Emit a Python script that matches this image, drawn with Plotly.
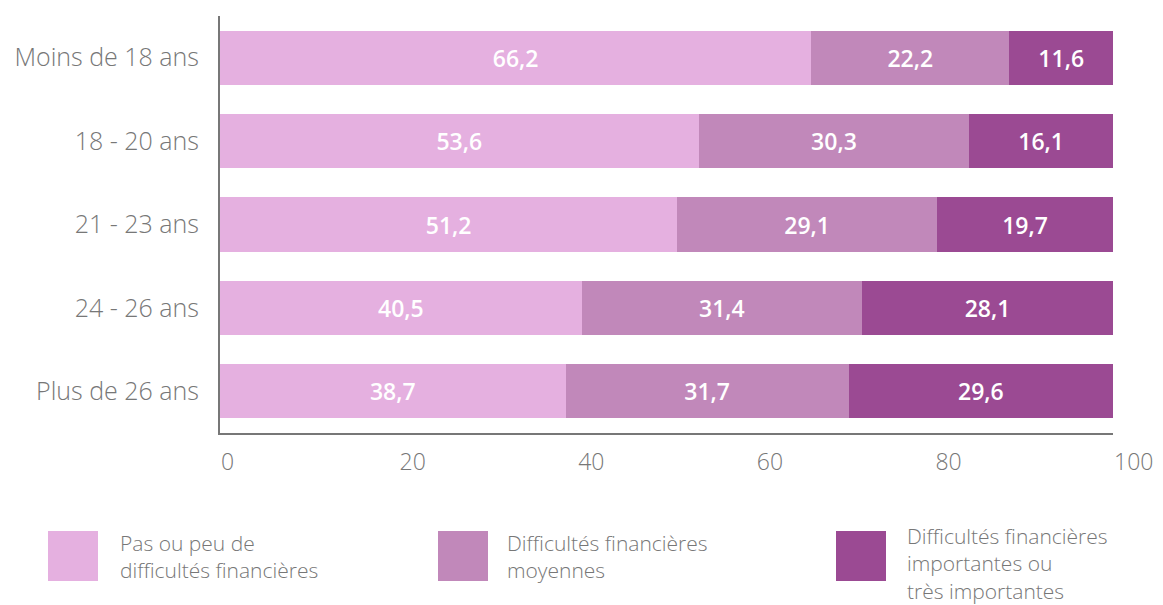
import plotly.graph_objects as go

categories = ["Moins de 18 ans", "18 - 20 ans", "21 - 23 ans", "24 - 26 ans", "Plus de 26 ans"]
series_names = [
    "Pas ou peu de<br>difficultés financières",
    "Difficultés financières<br>moyennes",
    "Difficultés financières<br>importantes ou<br>très importantes",
]
pas_ou_peu = [66.2, 53.6, 51.2, 40.5, 38.7]
moyennes = [22.2, 30.3, 29.1, 31.4, 31.7]
importantes = [11.6, 16.1, 19.7, 28.1, 29.6]
colors = ["#E5B0E0", "#C188BA", "#9B4A93"]
gray = "#777777"

W, H = 1163, 605
OFF = 8  # body margin of the html page
L, T = 212, 8
pw, ph = 893, 417
R, B = W - L - pw, H - T - ph


def px_x(x):
    return (x - OFF - L) / pw


def px_y(y):
    return (H - B - (y - OFF)) / ph


fig = go.Figure()
for name, vals, col in zip(series_names, [pas_ou_peu, moyennes, importantes], colors):
    fig.add_trace(go.Bar(
        y=categories, x=vals, name=name, orientation="h",
        marker=dict(color=col, line=dict(width=0)),
        texttemplate="%{x:.1f}", textposition="inside", insidetextanchor="middle",
        textfont=dict(color="white", size=23, family="Open Sans", weight=600),
        showlegend=False,
    ))

# legend drawn by hand: big squares + wrapped labels
legend_pos = [(48, 531, 118, 527), (438, 531, 505, 527), (836, 531, 905, 520)]
for (sx, sy, tx, ty), name, col in zip(legend_pos, series_names, colors):
    fig.add_shape(type="rect", xref="paper", yref="paper",
                  x0=px_x(sx), x1=px_x(sx + 50), y0=px_y(sy), y1=px_y(sy + 50),
                  fillcolor=col, line=dict(width=0))
    fig.add_annotation(text=name, xref="paper", yref="paper",
                       x=px_x(tx), y=px_y(ty), xanchor="left", yanchor="top",
                       align="left", showarrow=False,
                       font=dict(size=21, color=gray, family="Open Sans", weight=300))

fig.update_layout(
    width=W, height=H,
    margin=dict(l=L, r=R, t=T, b=B, autoexpand=False),
    barmode="stack", bargap=0.35,
    separators=", ",
    plot_bgcolor="white", paper_bgcolor="white",
    font=dict(family="Open Sans", size=24, color=gray),
    xaxis=dict(range=[0, 100], dtick=20, showgrid=False, zeroline=False,
               showline=True, linecolor=gray, linewidth=2,
               ticks="", ticklabelposition="outside right", ticklabelstandoff=7,
               tickfont=dict(size=23, color=gray, weight=300)),
    yaxis=dict(autorange="reversed", showgrid=False, zeroline=False,
               showline=True, linecolor=gray, linewidth=2,
               ticks="", ticklabelstandoff=14,
               tickfont=dict(size=25, color=gray, weight=300)),
)

fig.write_html("out.html")
